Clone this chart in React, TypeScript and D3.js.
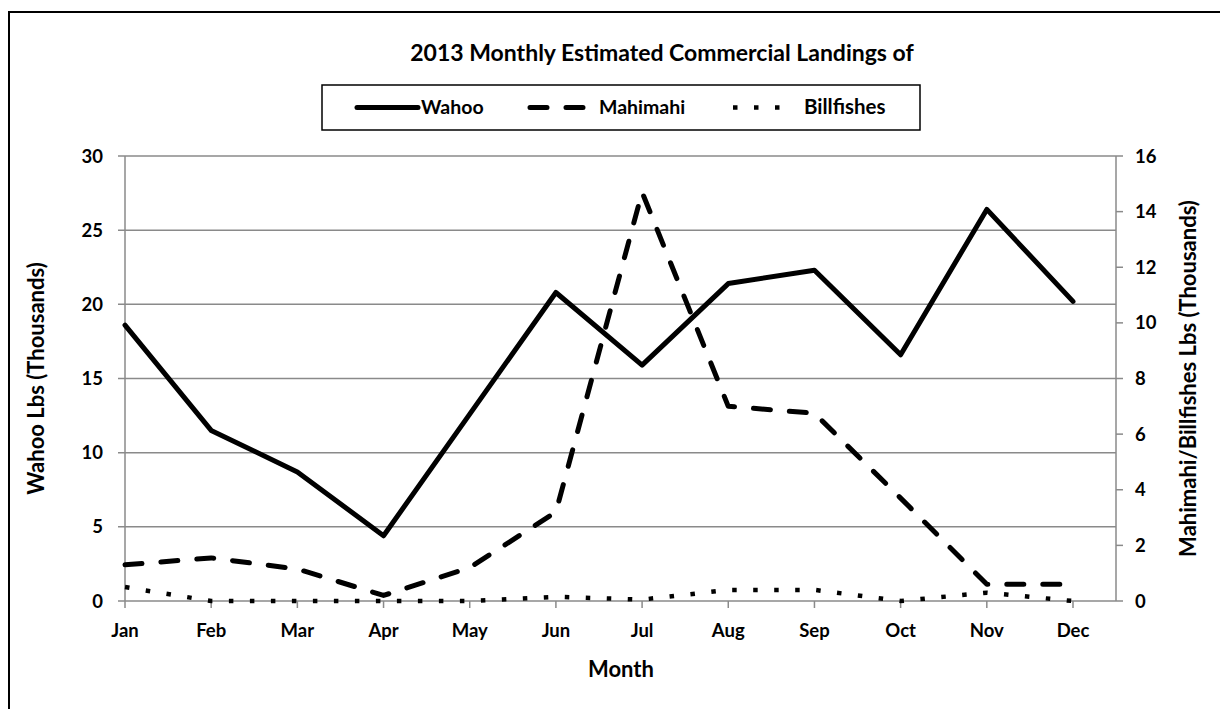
import React from "react";
import * as d3 from "d3";

const months = ["Jan", "Feb", "Mar", "Apr", "May", "Jun", "Jul", "Aug", "Sep", "Oct", "Nov", "Dec"];
const wahoo = [18.6, 11.5, 8.7, 4.4, 12.6, 20.8, 15.9, 21.4, 22.3, 16.6, 26.4, 20.2];
const mahimahi = [1.3, 1.55, 1.15, 0.2, 1.2, 3.2, 14.7, 7.0, 6.75, 3.7, 0.6, 0.6];
const billfishes = [0.5, 0.0, 0.0, 0.0, 0.0, 0.15, 0.05, 0.4, 0.4, 0.0, 0.3, 0.0];
const leftTicks = [0, 5, 10, 15, 20, 25, 30];
const rightTicks = [0, 2, 4, 6, 8, 10, 12, 14, 16];

const FONT = "Lato, 'Liberation Sans', sans-serif";

export default function App() {
  const plotL = 125, plotR = 1116, plotT = 156, plotB = 601;
  const x = d3.scalePoint<string>().domain(months).range([125, 1073]);
  const yL = d3.scaleLinear().domain([0, 30]).range([plotB, plotT]);
  const yR = d3.scaleLinear().domain([0, 16]).range([plotB, plotT]);

  const lineL = d3.line<number>().x((_, i) => x(months[i])!).y((d) => yL(d));
  const lineR = d3.line<number>().x((_, i) => x(months[i])!).y((d) => yR(d));

  const gridColor = "#8a8a8a";
  const tickFs = 18.5;
  const titleFs = 22;

  return (
    <svg width={1220} height={709} style={{ position: "absolute", left: 0, top: 0, background: "#fff" }}>
      <rect x={9} y={12} width={1400} height={900} fill="#fff" stroke="#000" strokeWidth={2} />

      <text x={662} y={61} textAnchor="middle" fontFamily={FONT} fontWeight="bold" fontSize={23} fill="#000">
        2013 Monthly Estimated Commercial Landings of
      </text>

      {/* legend */}
      <rect x={322} y={85} width={598} height={45} fill="#fff" stroke="#000" strokeWidth={1.5} />
      <line x1={357} x2={418} y1={107.5} y2={107.5} stroke="#000" strokeWidth={5} strokeLinecap="round" />
      <text x={421} y={114} fontFamily={FONT} fontWeight="bold" fontSize={19.5} fill="#000">Wahoo</text>
      <line x1={530} x2={592} y1={107.5} y2={107.5} stroke="#000" strokeWidth={5} strokeLinecap="round" strokeDasharray="17 19" />
      <text x={599} y={114} fontFamily={FONT} fontWeight="bold" fontSize={19.5} fill="#000">Mahimahi</text>
      <line x1={733} x2={796} y1={107.5} y2={107.5} stroke="#000" strokeWidth={4.5} strokeDasharray="4.5 16.5" />
      <text x={804} y={114} fontFamily={FONT} fontWeight="bold" fontSize={20.5} fill="#000">Billfishes</text>

      {/* gridlines + left axis */}
      {leftTicks.map((t) => (
        <g key={"l" + t}>
          <line x1={plotL - 7} x2={plotR} y1={yL(t)} y2={yL(t)} stroke={gridColor} strokeWidth={1.5} />
          <text x={103} y={yL(t) + 6.5} textAnchor="end" fontFamily={FONT} fontWeight="bold" fontSize={tickFs} fill="#000">
            {t}
          </text>
        </g>
      ))}
      <line x1={plotL} x2={plotL} y1={plotT} y2={plotB} stroke={gridColor} strokeWidth={1.5} />

      {/* right axis */}
      <line x1={plotR} x2={plotR} y1={plotT} y2={plotB} stroke={gridColor} strokeWidth={1.5} />
      {rightTicks.map((t) => (
        <g key={"r" + t}>
          <line x1={plotR} x2={plotR + 7} y1={yR(t)} y2={yR(t)} stroke={gridColor} strokeWidth={1.5} />
          <text x={1135} y={yR(t) + 6.5} textAnchor="start" fontFamily={FONT} fontWeight="bold" fontSize={tickFs} fill="#000">
            {t}
          </text>
        </g>
      ))}

      {/* x axis */}
      {months.map((m) => (
        <g key={m}>
          <line x1={x(m)!} x2={x(m)!} y1={plotB} y2={plotB + 7} stroke={gridColor} strokeWidth={1.5} />
          <text x={x(m)!} y={637} textAnchor="middle" fontFamily={FONT} fontWeight="bold" fontSize={tickFs} fill="#000">
            {m}
          </text>
        </g>
      ))}

      <text x={621} y={677} textAnchor="middle" fontFamily={FONT} fontWeight="bold" fontSize={titleFs} fill="#000">
        Month
      </text>
      <text
        transform={`translate(44, ${(plotT + plotB) / 2}) rotate(-90)`}
        textAnchor="middle"
        fontFamily={FONT}
        fontWeight="bold"
        fontSize={titleFs}
        fill="#000"
      >
        Wahoo Lbs (Thousands)
      </text>
      <text
        transform={`translate(1196, ${(plotT + plotB) / 2}) rotate(-90)`}
        textAnchor="middle"
        fontFamily={FONT}
        fontWeight="bold"
        fontSize={titleFs}
        fill="#000"
      >
        Mahimahi/Billfishes Lbs (Thousands)
      </text>

      {/* series */}
      <path d={lineR(billfishes)!} fill="none" stroke="#000" strokeWidth={4.5} strokeDasharray="4.5 16.5" />
      <path d={lineR(mahimahi)!} fill="none" stroke="#000" strokeWidth={5} strokeLinecap="round" strokeLinejoin="round" strokeDasharray="17 19" />
      <path d={lineL(wahoo)!} fill="none" stroke="#000" strokeWidth={5} strokeLinejoin="round" strokeLinecap="round" />
    </svg>
  );
}
